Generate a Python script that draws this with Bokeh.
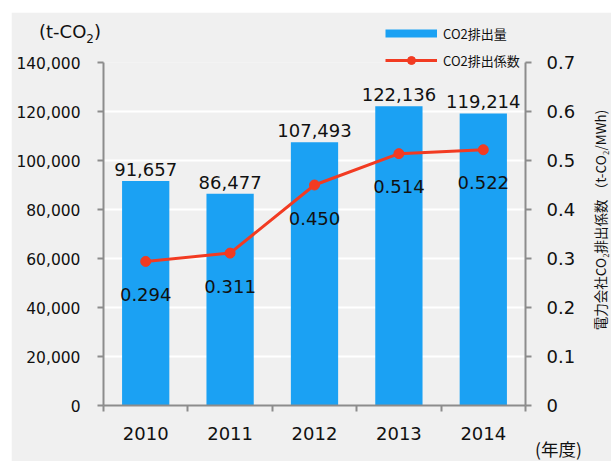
from bokeh.plotting import figure
from bokeh.layouts import column
from bokeh.models import (Range1d, LinearAxis, FixedTicker, NumeralTickFormatter,
                          Legend, LegendItem, Div)
from bokeh.embed import file_html
from bokeh.resources import INLINE
from bokeh.core.properties import value

# ---- data ----
years = [2010, 2011, 2012, 2013, 2014]
emissions = [91657, 86477, 107493, 122136, 119214]
factors = [0.294, 0.311, 0.450, 0.514, 0.522]
emission_labels = ["91,657", "86,477", "107,493", "122,136", "119,214"]
factor_labels = ["0.294", "0.311", "0.450", "0.514", "0.522"]
left_ticks = [0, 20000, 40000, 60000, 80000, 100000, 120000, 140000]
right_ticks = [0, 0.1, 0.2, 0.3, 0.4, 0.5, 0.6, 0.7]
right_tick_labels = ["0", "0.1", "0.2", "0.3", "0.4", "0.5", "0.6", "0.7"]
bar_name = "CO2排出量"
line_name = "CO2排出係数"
left_unit_html = "(t-CO<sub style='font-size:12px;line-height:0'>2</sub>)"
right_title = "電力会社CO₂排出係数 （t-CO₂/MWh)"
x_unit = "(年度)"

BLUE = "#1ba1f3"
RED = "#f23b22"
AXIS = "#8c8c8c"
BG = "#f0f0f0"
TXT = "#111111"
NUM_FONT = "DejaVu Sans"
JP_FONT = "Noto Sans CJK JP"

W, H = 600, 449
TOP, LEFT = 12, 11

p = figure(width=W, height=H, margin=(TOP, 0, 0, LEFT),
           x_range=Range1d(years[0] - 0.5, years[-1] + 0.5),
           y_range=Range1d(left_ticks[0], left_ticks[-1]),
           output_backend="svg", toolbar_location=None,
           min_border_left=92, min_border_right=86,
           min_border_top=50, min_border_bottom=56)
p.background_fill_color = BG
p.border_fill_color = BG
p.outline_line_color = None
p.extra_y_ranges = {"right": Range1d(right_ticks[0], right_ticks[-1])}

# grid
p.xgrid.visible = False
p.ygrid.ticker = FixedTicker(ticks=left_ticks)
p.ygrid.grid_line_color = "white"
p.ygrid.grid_line_width = 2

# bars
p.vbar(x=years, top=emissions, width=0.56, fill_color=BLUE, line_color=None)

# line
p.line(x=years, y=factors, y_range_name="right", line_color=RED, line_width=3)
p.scatter(x=years, y=factors, y_range_name="right", size=10,
          fill_color=RED, line_color=RED)

# value labels
p.text(x=years, y=emissions, text=emission_labels, text_align="center",
       text_baseline="bottom", y_offset=-5, text_font=value(NUM_FONT),
       text_font_size="18px", text_color=TXT)
p.text(x=years, y=factors, text=factor_labels, y_range_name="right",
       text_align="center", text_baseline="middle", y_offset=33,
       text_font=value(NUM_FONT), text_font_size="18px", text_color=TXT)


def style_axis(ax):
    ax.axis_line_color = AXIS
    ax.axis_line_width = 2
    ax.major_tick_line_color = AXIS
    ax.major_tick_line_width = 2
    ax.minor_tick_line_color = None
    ax.major_tick_in = 0
    ax.major_tick_out = 6
    ax.major_label_text_font = NUM_FONT
    ax.major_label_text_color = TXT


# left axis
ya = p.yaxis[0]
ya.ticker = FixedTicker(ticks=left_ticks)
ya.formatter = NumeralTickFormatter(format="0,0")
style_axis(ya)
ya.major_label_text_font_size = "15.5px"
ya.major_label_standoff = 17

# right axis
ra = LinearAxis(y_range_name="right",
                ticker=FixedTicker(ticks=right_ticks),
                major_label_overrides=dict(zip(right_ticks, right_tick_labels)))
style_axis(ra)
ra.major_label_text_font_size = "18px"
ra.major_label_standoff = 15
p.add_layout(ra, "right")

# x axis
xa = p.xaxis[0]
bounds = [y - 0.5 for y in years] + [years[-1] + 0.5]
xa.ticker = FixedTicker(ticks=years, minor_ticks=bounds)
style_axis(xa)
xa.major_tick_out = 0
xa.minor_tick_line_color = AXIS
xa.minor_tick_line_width = 2
xa.minor_tick_in = 0
xa.minor_tick_out = 6
xa.major_label_text_font_size = "18px"
xa.major_label_standoff = 15

# ---- transparent overlay strip holding the legend ----
HO = 70
o = figure(width=W, height=HO, margin=(-H, 0, 0, LEFT),
           x_range=Range1d(0, 1), y_range=Range1d(0, 1),
           output_backend="svg", toolbar_location=None,
           x_axis_location=None, y_axis_location=None,
           min_border=0)
o.background_fill_alpha = 0
o.border_fill_alpha = 0
o.outline_line_color = None
o.xgrid.visible = False
o.ygrid.visible = False

# legend key renderers (their data lies outside this strip's ranges)
bar_key = o.line(x=years, y=emissions, line_color=BLUE, line_width=8)
line_key = o.line(x=years, y=factors, line_color=RED, line_width=3)
dot_key = o.scatter(x=years, y=factors, size=10, fill_color=RED, line_color=RED)
legend = Legend(items=[LegendItem(label=bar_name, renderers=[bar_key]),
                       LegendItem(label=line_name, renderers=[line_key, dot_key])],
                location=(282, 12), orientation="vertical",
                glyph_width=52, glyph_height=20, label_height=20, spacing=7,
                label_standoff=6, padding=0, margin=0,
                background_fill_alpha=0, border_line_color=None,
                label_text_font=JP_FONT, label_text_font_size="13px",
                label_text_color=TXT)
o.add_layout(legend, "center")

# ---- unit texts (HTML, stacked with negative margins over the chart) ----
flow = TOP + HO  # bottom edge of the overlay strip

yr_top, yr_h = 436, 25
d_year = Div(text=f"<div style=\"font-family:'{JP_FONT}';font-size:17.5px;line-height:{yr_h}px;"
                  f"color:{TXT};white-space:nowrap\">{x_unit}</div>",
             width=70, height=yr_h, margin=(yr_top - flow, 0, 0, 535))
flow = yr_top + yr_h

co_top, co_h = 21, 22
d_co2 = Div(text=f"<div style=\"font-family:'{NUM_FONT}';font-size:18px;line-height:{co_h}px;"
                 f"color:{TXT};white-space:nowrap\">{left_unit_html}</div>",
            width=90, height=co_h, margin=(co_top - flow, 0, 0, 39))
flow = co_top + co_h

rt_len, rt_w, rt_cx, rt_cy = 236, 18, 600, 220
rt_top = rt_cy - rt_len // 2
d_right = Div(text=(f"<div style=\"width:{rt_len}px;height:{rt_w}px;line-height:{rt_w}px;"
                    f"font-family:'{JP_FONT}';font-size:13.5px;color:{TXT};"
                    f"text-align:center;white-space:nowrap;transform-origin:0 0;"
                    f"transform:translate(0,{rt_len}px) rotate(-90deg)\">{right_title}</div>"),
              width=rt_w, height=rt_len,
              margin=(rt_top - flow, 0, 0, rt_cx - rt_w // 2))

layout = column(p, o, d_year, d_co2, d_right)
open("out.html", "w").write(file_html(layout, INLINE))
